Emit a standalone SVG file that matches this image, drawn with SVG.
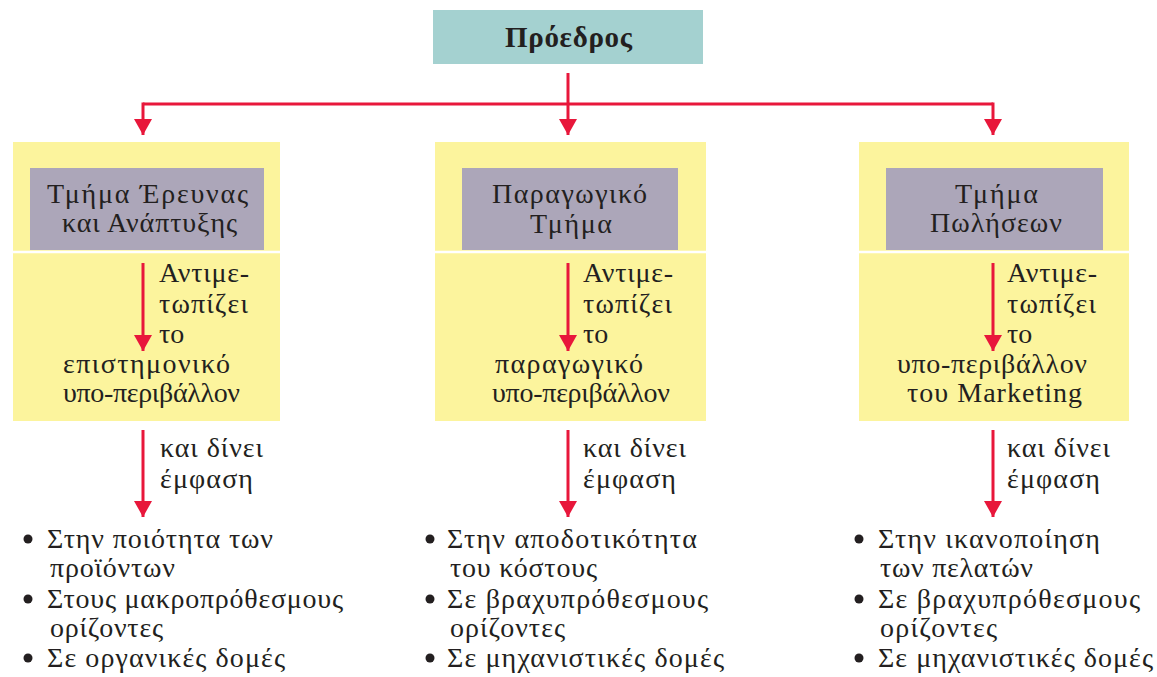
<svg xmlns="http://www.w3.org/2000/svg" width="1157" height="677" viewBox="0 0 1157 677">
<style>
.t{font-family:"Liberation Serif","DejaVu Serif",serif;font-size:28px;fill:#231f20}
.h{font-family:"Liberation Serif","DejaVu Serif",serif;font-size:28px;fill:#231f20}
.yel{fill:#fcf49d}
.pur{fill:#aca6b9}
.sep{stroke:#ffffff;stroke-width:2.5}
.ln{stroke:#e8173b;stroke-width:3;fill:none}
.dot{fill:#231f20}
</style>
<defs>
<marker id="ah" markerUnits="userSpaceOnUse" markerWidth="16" markerHeight="18" refX="16" refY="9" orient="auto">
<path d="M0,0 L16,9 L0,18 z" fill="#e8173b"/>
</marker>
</defs>
<rect width="1157" height="677" fill="#ffffff"/>

<g id="president">
<rect x="433" y="10" width="270" height="54" fill="#a4d1d0"/>
<text x="505" y="47" class="h" style="font-weight:bold;font-size:29px" textLength="127">Πρόεδρος</text>
</g>

<g id="col-rd">
<rect x="13" y="142" width="267" height="279" class="yel"/>
<rect x="30" y="168" width="234" height="82" class="pur"/>
<line x1="13" y1="252" x2="280" y2="252" class="sep"/>
<text x="47" y="203" class="h" textLength="201">Τμήμα Έρευνας</text>
<text x="62" y="232" class="h" textLength="175">και Ανάπτυξης</text>
<text x="159" y="282" class="t" textLength="90">Αντιμε-</text>
<text x="159" y="313" class="t" textLength="89">τωπίζει</text>
<text x="159" y="343" class="t">το</text>
<text x="63" y="373" class="t" textLength="167">επιστημονικό</text>
<text x="63" y="402" class="t" textLength="177">υπο-περιβάλλον</text>
<text x="160" y="457" class="t" textLength="103">και δίνει</text>
<text x="160" y="488" class="t" textLength="93">έμφαση</text>
<circle cx="28" cy="539" r="4.5" class="dot"/>
<text x="47" y="548" class="t" textLength="226">Στην ποιότητα των</text>
<text x="50" y="577" class="t" textLength="125">προϊόντων</text>
<circle cx="28" cy="599" r="4.5" class="dot"/>
<text x="47" y="608" class="t" textLength="296">Στους μακροπρόθεσμους</text>
<text x="50" y="637" class="t" textLength="113">ορίζοντες</text>
<circle cx="28" cy="658" r="4.5" class="dot"/>
<text x="47" y="667" class="t" textLength="238">Σε οργανικές δομές</text>
</g>

<g id="col-prod">
<rect x="435" y="142" width="271" height="279" class="yel"/>
<rect x="462" y="168" width="216" height="82" class="pur"/>
<line x1="435" y1="252" x2="706" y2="252" class="sep"/>
<text x="492" y="203" class="h" textLength="155">Παραγωγικό</text>
<text x="530" y="233" class="h" textLength="82">Τμήμα</text>
<text x="583" y="282" class="t" textLength="90">Αντιμε-</text>
<text x="583" y="313" class="t" textLength="89">τωπίζει</text>
<text x="583" y="343" class="t">το</text>
<text x="495" y="373" class="t" textLength="148">παραγωγικό</text>
<text x="492" y="402" class="t" textLength="178">υπο-περιβάλλον</text>
<text x="583" y="457" class="t" textLength="103">και δίνει</text>
<text x="583" y="488" class="t" textLength="93">έμφαση</text>
<circle cx="430" cy="539" r="4.5" class="dot"/>
<text x="447" y="548" class="t" textLength="250">Στην αποδοτικότητα</text>
<text x="450" y="577" class="t" textLength="147">του κόστους</text>
<circle cx="430" cy="599" r="4.5" class="dot"/>
<text x="447" y="608" class="t" textLength="261">Σε βραχυπρόθεσμους</text>
<text x="450" y="637" class="t" textLength="115">ορίζοντες</text>
<circle cx="430" cy="658" r="4.5" class="dot"/>
<text x="447" y="667" class="t" textLength="277">Σε μηχανιστικές δομές</text>
</g>

<g id="col-sales">
<rect x="859" y="142" width="270" height="279" class="yel"/>
<rect x="886" y="168" width="217" height="82" class="pur"/>
<line x1="859" y1="252" x2="1129" y2="252" class="sep"/>
<text x="955" y="203" class="h" textLength="83">Τμήμα</text>
<text x="930" y="232" class="h" textLength="132">Πωλήσεων</text>
<text x="1007" y="282" class="t" textLength="90">Αντιμε-</text>
<text x="1007" y="313" class="t" textLength="89">τωπίζει</text>
<text x="1007" y="343" class="t">το</text>
<text x="897" y="373" class="t" textLength="190">υπο-περιβάλλον</text>
<text x="907" y="402" class="t" textLength="175">του Marketing</text>
<text x="1007" y="457" class="t" textLength="103">και δίνει</text>
<text x="1007" y="488" class="t" textLength="93">έμφαση</text>
<circle cx="859" cy="539" r="4.5" class="dot"/>
<text x="878" y="548" class="t" textLength="222">Στην ικανοποίηση</text>
<text x="880" y="577" class="t" textLength="153">των πελατών</text>
<circle cx="859" cy="599" r="4.5" class="dot"/>
<text x="878" y="608" class="t" textLength="262">Σε βραχυπρόθεσμους</text>
<text x="880" y="637" class="t" textLength="117">ορίζοντες</text>
<circle cx="859" cy="658" r="4.5" class="dot"/>
<text x="878" y="667" class="t" textLength="275">Σε μηχανιστικές δομές</text>
</g>

<g id="connectors">
<path d="M143,104 H993" class="ln"/>
<path d="M568,73 V135" class="ln" marker-end="url(#ah)"/>
<path d="M143,102.5 V135" class="ln" marker-end="url(#ah)"/>
<path d="M993,102.5 V135" class="ln" marker-end="url(#ah)"/>
<path d="M143,263 V351" class="ln" marker-end="url(#ah)"/>
<path d="M568,263 V351" class="ln" marker-end="url(#ah)"/>
<path d="M993,263 V351" class="ln" marker-end="url(#ah)"/>
<path d="M143,430 V517" class="ln" marker-end="url(#ah)"/>
<path d="M568,430 V517" class="ln" marker-end="url(#ah)"/>
<path d="M993,430 V517" class="ln" marker-end="url(#ah)"/>
</g>
</svg>
